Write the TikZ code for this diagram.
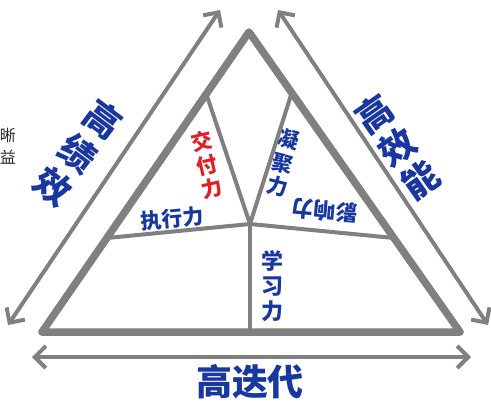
\documentclass[tikz,border=0pt]{standalone}
\usepackage{fontspec}
\newfontfamily\cjk{Noto Sans CJK SC}
\usetikzlibrary{arrows.meta}
\definecolor{linegray}{RGB}{128,128,128}
\definecolor{txtblue}{RGB}{25,55,160}
\definecolor{txtred}{RGB}{228,28,36}
\begin{document}
\begin{tikzpicture}[x=1pt,y=-1pt,
  edge/.style={draw=linegray,line width=7.5pt,line join=round,line cap=round},
  innerline/.style={draw=linegray,line width=4pt,line cap=round},
  dbl/.style={draw=linegray,line width=4pt,{Straight Barb[length=11pt,width=22pt]}-{Straight Barb[length=11pt,width=22pt]}},
  bigtxt/.style={text=txtblue,font=\cjk\bfseries\fontsize{36}{41}\selectfont,inner sep=0pt,align=center},
  smalltxt/.style={font=\cjk\bfseries\fontsize{21}{24}\selectfont,inner sep=0pt,align=center},
  sidetxt/.style={font=\cjk\fontsize{16}{16}\selectfont,text=black!85,anchor=east,inner sep=0pt},
]
\useasboundingbox (0,0) rectangle (491,404);
% triangle geometry
\coordinate (A) at (249,32);
\coordinate (BL) at (42,332);
\coordinate (BR) at (460,332);
\coordinate (L1) at (206,93);
\coordinate (R1) at (292,92);
\coordinate (J) at (250,224);
\coordinate (H1) at (107,238);
\coordinate (H2) at (394,238);
\coordinate (V) at (250,332);
% arrow ends
\coordinate (la1) at (8,325);
\coordinate (la2) at (220,10);
\coordinate (ra1) at (278,10);
\coordinate (ra2) at (488,325);
\coordinate (ba1) at (32,357);
\coordinate (ba2) at (471,357);

% texts
\node[bigtxt,rotate=-37,font=\cjk\bfseries\fontsize{36}{42}\selectfont] (gjx) at (78,153) {高\\绩\\效};
\node[bigtxt,rotate=35,font=\cjk\bfseries\fontsize{36}{40}\selectfont] (gxn) at (397,147) {高\\效\\能};
\node[bigtxt] (gdd) at (250,382) {高迭代};
\node[smalltxt,text=txtred,rotate=13] (jfl) at (207,165) {交\\付\\力};
\node[smalltxt,text=txtblue,rotate=-14] (njl) at (283,163) {凝\\聚\\力};
\node[smalltxt,text=txtblue,font=\cjk\bfseries\fontsize{22}{25}\selectfont] (xxl) at (272,286) {学\\习\\力};
\node[smalltxt,text=txtblue,rotate=175,font=\cjk\bfseries\fontsize{22}{24}\selectfont] (yxl) at (325,211) {影响力};
\begin{scope}
\clip (H1) -- (J) -- (250,150) -- (100,150) -- cycle;
\node[smalltxt,text=txtblue,rotate=5] (zxl) at (172,219) {执行力};
\end{scope}
\node[sidetxt] (xi) at (16,135) {晰};
\node[sidetxt] (yi) at (16,157) {益};

% arrows
\draw[dbl] (la1) -- (la2);
\draw[dbl] (ra1) -- (ra2);
\draw[dbl] (ba1) -- (ba2);

% inner lines
\draw[innerline] (L1) -- (J);
\draw[innerline] (R1) -- (J);
\draw[innerline] (H1) -- (J) -- (H2);
\draw[innerline] (J) -- (V);

% outer triangle
\draw[edge] (A) -- (BL) -- (BR) -- cycle;
\end{tikzpicture}
\end{document}
